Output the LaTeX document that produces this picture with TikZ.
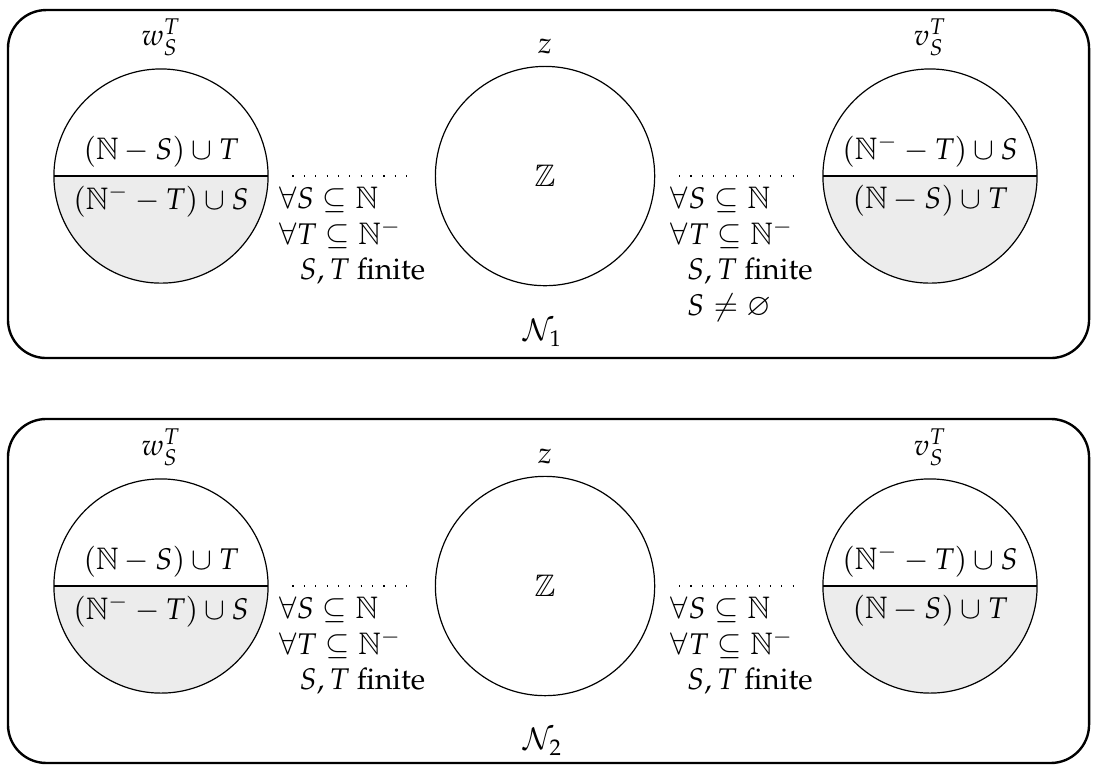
\documentclass[tikz,border=0pt]{standalone}
\usepackage[T1]{fontenc}
\usepackage{amsmath, amssymb}
\usepackage[noBBpl]{mathpazo}
\usepackage{xcolor}
\usepackage{tikz}
\usetikzlibrary{positioning}

\begin{document}
\begin{tikzpicture}[
    khung/.style={thick, rounded corners=0.45cm},
    tron/.style={circle, draw, minimum size=2.52cm, inner sep=0pt},
    tronchia/.style={tron, path picture={
        \fill[gray!15] (path picture bounding box.west) rectangle (path picture bounding box.south east);
        \draw (path picture bounding box.west) -- (path picture bounding box.east);}},
    cham/.style={dash pattern=on 0.4pt off 3.4pt, shorten <=0.28cm, shorten >=0.22cm},
    dieukien/.style={align=left, inner sep=0pt, anchor=north west}]
    \useasboundingbox (0,0) rectangle (12.882,-9);

    % Khung thứ nhất: N_1
    \draw[khung] (0.094,-0.118) rectangle (12.812,-4.212);
    \node[tronchia] (w1) at (1.894,-2.071) {};
    \node[tron, minimum size=2.58cm] (z1) at (6.412,-2.071) {$\mathbb{Z}$};
    \node[tronchia] (v1) at (10.941,-2.071) {};
    \node[above=0.02cm of w1] (w1ten) {$w_S^T$};
    \node[above=0.02cm of z1] (z1ten) {$z$};
    \node[above=0.02cm of v1] (v1ten) {$v_S^T$};
    \node (w1tren) at ([yshift=0.29cm]w1.center) {$(\mathbb{N}-S)\cup T$};
    \node (w1duoi) at ([yshift=-0.29cm]w1.center) {$(\mathbb{N}^{-}-T)\cup S$};
    \node (v1tren) at ([yshift=0.29cm]v1.center) {$(\mathbb{N}^{-}-T)\cup S$};
    \node (v1duoi) at ([yshift=-0.29cm]v1.center) {$(\mathbb{N}-S)\cup T$};
    \draw[cham] (w1) -- (z1);
    \draw[cham] (z1) -- (v1);
    \node[dieukien] (dk1) at (3.271,-2.188)
        {$\forall S\subseteq\mathbb{N}$\\ $\forall T\subseteq\mathbb{N}^{-}$\\ \hspace*{7pt}$S,T$ finite};
    \node[dieukien] (dk2) at (7.882,-2.188)
        {$\forall S\subseteq\mathbb{N}$\\ $\forall T\subseteq\mathbb{N}^{-}$\\ \hspace*{5.5pt}$S,T$ finite\\ \hspace*{5.5pt}$S\neq\varnothing$};
    \node (n1) at (6.388,-3.918) {$\mathcal{N}_1$};

    % Khung thứ hai: N_2
    \draw[khung] (0.094,-4.929) rectangle (12.812,-8.976);
    \node[tronchia] (w2) at (1.894,-6.894) {};
    \node[tron, minimum size=2.58cm] (z2) at (6.412,-6.894) {$\mathbb{Z}$};
    \node[tronchia] (v2) at (10.941,-6.894) {};
    \node[above=0.02cm of w2] (w2ten) {$w_S^T$};
    \node[above=0.02cm of z2] (z2ten) {$z$};
    \node[above=0.02cm of v2] (v2ten) {$v_S^T$};
    \node (w2tren) at ([yshift=0.29cm]w2.center) {$(\mathbb{N}-S)\cup T$};
    \node (w2duoi) at ([yshift=-0.29cm]w2.center) {$(\mathbb{N}^{-}-T)\cup S$};
    \node (v2tren) at ([yshift=0.29cm]v2.center) {$(\mathbb{N}^{-}-T)\cup S$};
    \node (v2duoi) at ([yshift=-0.29cm]v2.center) {$(\mathbb{N}-S)\cup T$};
    \draw[cham] (w2) -- (z2);
    \draw[cham] (z2) -- (v2);
    \node[dieukien] (dk3) at (3.271,-7.011)
        {$\forall S\subseteq\mathbb{N}$\\ $\forall T\subseteq\mathbb{N}^{-}$\\ \hspace*{7pt}$S,T$ finite};
    \node[dieukien] (dk4) at (7.882,-7.011)
        {$\forall S\subseteq\mathbb{N}$\\ $\forall T\subseteq\mathbb{N}^{-}$\\ \hspace*{5.5pt}$S,T$ finite};
    \node (n2) at (6.388,-8.729) {$\mathcal{N}_2$};
\end{tikzpicture}
\end{document}
